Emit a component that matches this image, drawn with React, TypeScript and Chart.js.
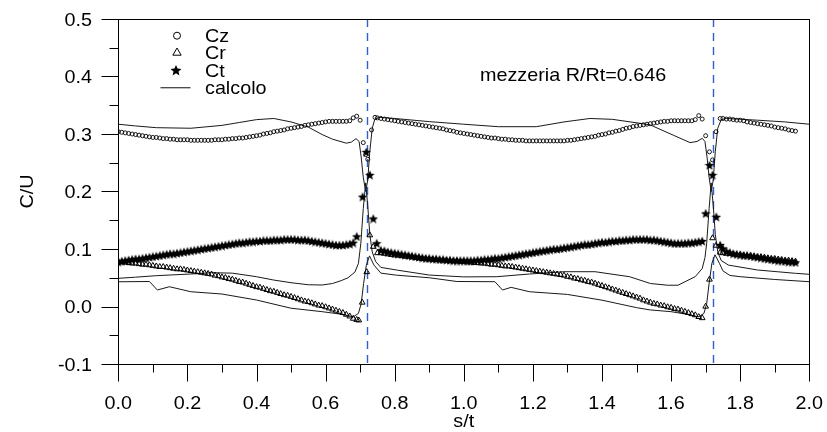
import React, { useEffect, useRef } from 'react';
import { Chart, registerables } from 'chart.js';

Chart.register(...registerables);

// ---------- axis ticks ----------
const xTicks = [0, 0.2, 0.4, 0.6, 0.8, 1.0, 1.2, 1.4, 1.6, 1.8, 2.0];
const xTickLabels = ['0.0', '0.2', '0.4', '0.6', '0.8', '1.0', '1.2', '1.4', '1.6', '1.8', '2.0'];
const xMinorTicks = [0.1, 0.3, 0.5, 0.7, 0.9, 1.1, 1.3, 1.5, 1.7, 1.9];
const yTicks = [-0.1, 0.0, 0.1, 0.2, 0.3, 0.4, 0.5];
const yTickLabels = ['-0.1', '0.0', '0.1', '0.2', '0.3', '0.4', '0.5'];
const yMinorTicks = [-0.05, 0.05, 0.15, 0.25, 0.35, 0.45];
const wakeLines = [0.72, 1.72];

const xTitle = 's/t';
const yTitle = 'C/U';
const note = 'mezzeria R/Rt=0.646';
const legendLabels = ['Cz', 'Cr', 'Ct', 'calcolo'];

// ---------- measured Cz (circles) ----------
const czSeg1Start = 0.0;
const czSeg1 = [
  0.304, 0.303, 0.302, 0.301, 0.300, 0.299, 0.298, 0.297, 0.296, 0.295,
  0.294, 0.294, 0.293, 0.292, 0.292, 0.291, 0.291, 0.290, 0.290, 0.290,
  0.290, 0.289, 0.289, 0.289, 0.289, 0.289, 0.289, 0.289, 0.290, 0.290,
  0.290, 0.291, 0.291, 0.292, 0.292, 0.293, 0.293, 0.294, 0.295, 0.296,
  0.297, 0.298, 0.300, 0.301, 0.302, 0.304, 0.305, 0.306, 0.307, 0.309,
  0.310, 0.311, 0.312, 0.313, 0.315, 0.316, 0.317, 0.318, 0.319, 0.320,
  0.321, 0.322, 0.322, 0.322, 0.322, 0.322, 0.322, 0.323, 0.328, 0.331,
  0.324,
];
const czSpike1 = [[0.709, 0.285], [0.716, 0.264], [0.722, 0.256], [0.733, 0.307], [0.743, 0.329]];
const czSeg2Start = 0.75;
const czSeg2 = [
  0.328, 0.327, 0.326, 0.325, 0.324,
  0.323, 0.322, 0.321, 0.320, 0.319, 0.318, 0.317, 0.316, 0.315, 0.314,
  0.313, 0.312, 0.311, 0.310, 0.309, 0.307, 0.306, 0.305, 0.303, 0.302,
  0.301, 0.300, 0.299, 0.298, 0.297, 0.296, 0.295, 0.294, 0.293, 0.293,
  0.292, 0.291, 0.291, 0.290, 0.290, 0.289, 0.289, 0.289, 0.288, 0.288,
  0.288, 0.288, 0.288, 0.288, 0.288, 0.288, 0.288, 0.288, 0.288, 0.288,
  0.289, 0.289, 0.290, 0.291, 0.292, 0.293, 0.294, 0.295, 0.296, 0.298,
  0.299, 0.300, 0.302, 0.303, 0.305, 0.306, 0.308, 0.310, 0.311, 0.313,
  0.314, 0.315, 0.316, 0.317, 0.318, 0.319, 0.320, 0.321, 0.322, 0.322,
  0.323, 0.323, 0.323, 0.323, 0.323, 0.323, 0.323, 0.325, 0.332, 0.326,
];
const czSpike2 = [[1.700, 0.297], [1.711, 0.269], [1.720, 0.255], [1.730, 0.304], [1.742, 0.327]];
const czSeg3Start = 1.75;
const czSeg3 = [
  0.327, 0.326, 0.326, 0.325, 0.324, 0.324, 0.323, 0.321, 0.320, 0.319,
  0.318, 0.317, 0.316, 0.315, 0.314, 0.312, 0.311, 0.310, 0.309, 0.307,
  0.306, 0.305,
];

// ---------- measured Cr (triangles) ----------
const crSeg1Start = 0.0;
const crSeg1 = [
  0.078, 0.077, 0.077, 0.076, 0.075, 0.075, 0.074, 0.073, 0.073, 0.072,
  0.071, 0.070, 0.069, 0.069, 0.068, 0.067, 0.066, 0.065, 0.065, 0.064,
  0.063, 0.062, 0.061, 0.060, 0.059, 0.058, 0.057, 0.056, 0.054, 0.053,
  0.051, 0.050, 0.048, 0.047, 0.045, 0.043, 0.042, 0.040, 0.038, 0.036,
  0.034, 0.033, 0.031, 0.029, 0.027, 0.026, 0.024, 0.022, 0.020, 0.019,
  0.017, 0.015, 0.013, 0.011, 0.009, 0.008, 0.006, 0.004, 0.002, 0.001,
  -0.001, -0.003, -0.005, -0.007, -0.009, -0.011, -0.014, -0.017, -0.021, -0.023,
];
const crSpike1 = [[0.696, -0.024], [0.706, 0.007], [0.719, 0.060], [0.728, 0.124], [0.738, 0.104], [0.750, 0.093]];
const crSeg2Start = 0.76;
const crSeg2 = [
  0.093, 0.092, 0.091, 0.090,
  0.089, 0.089, 0.088, 0.087, 0.087, 0.086, 0.085, 0.084, 0.083, 0.083,
  0.082, 0.082, 0.081, 0.081, 0.080, 0.080, 0.079, 0.079, 0.079, 0.078,
  0.078, 0.077, 0.077, 0.076, 0.076, 0.075, 0.075, 0.074, 0.073, 0.073,
  0.072, 0.071, 0.070, 0.070, 0.069, 0.068, 0.067, 0.066, 0.065, 0.064,
  0.063, 0.062, 0.061, 0.060, 0.059, 0.058, 0.057, 0.056, 0.055, 0.054,
  0.052, 0.051, 0.049, 0.048, 0.046, 0.045, 0.043, 0.042, 0.040, 0.038,
  0.036, 0.034, 0.032, 0.030, 0.028, 0.026, 0.024, 0.022, 0.020, 0.018,
  0.016, 0.014, 0.011, 0.009, 0.007, 0.005, 0.004, 0.002, 0.001, -0.001,
  -0.002, -0.004, -0.005, -0.007, -0.009, -0.011, -0.013, -0.015, -0.018, -0.020,
];
const crSpike2 = [[1.700, 0.000], [1.711, 0.047], [1.720, 0.119], [1.730, 0.106], [1.742, 0.094]];
const crSeg3Start = 1.75;
const crSeg3 = [
  0.093, 0.092, 0.092, 0.091, 0.090, 0.090, 0.089, 0.088, 0.088, 0.087,
  0.086, 0.086, 0.085, 0.084, 0.083, 0.083, 0.082, 0.081, 0.080, 0.080,
  0.079, 0.078,
];

// ---------- measured Ct (stars) ----------
const ctSeg1Start = 0.0;
const ctSeg1 = [
  0.078, 0.079, 0.080, 0.081, 0.082, 0.083, 0.083, 0.084, 0.085, 0.086,
  0.087, 0.088, 0.089, 0.090, 0.091, 0.092, 0.092, 0.093, 0.094, 0.095,
  0.096, 0.097, 0.098, 0.099, 0.100, 0.101, 0.102, 0.103, 0.104, 0.105,
  0.106, 0.107, 0.108, 0.109, 0.110, 0.111, 0.111, 0.112, 0.113, 0.113,
  0.114, 0.114, 0.115, 0.115, 0.115, 0.116, 0.116, 0.116, 0.117, 0.117,
  0.117, 0.117, 0.116, 0.116, 0.116, 0.115, 0.114, 0.113, 0.112, 0.111,
  0.110, 0.109, 0.108, 0.107, 0.107, 0.107, 0.108, 0.109, 0.111, 0.122,
];
const ctSpike1 = [[0.707, 0.191], [0.718, 0.269], [0.728, 0.229], [0.738, 0.153], [0.748, 0.110]];
const ctSeg2Start = 0.76;
const ctSeg2 = [
  0.098, 0.097, 0.095, 0.094,
  0.093, 0.092, 0.091, 0.090, 0.089, 0.088, 0.087, 0.086, 0.085, 0.084,
  0.084, 0.083, 0.083, 0.082, 0.082, 0.081, 0.081, 0.080, 0.080, 0.080,
  0.080, 0.080, 0.080, 0.080, 0.081, 0.081, 0.082, 0.082, 0.083, 0.084,
  0.084, 0.085, 0.086, 0.087, 0.088, 0.089, 0.090, 0.091, 0.092, 0.093,
  0.094, 0.095, 0.096, 0.097, 0.098, 0.099, 0.100, 0.100, 0.101, 0.102,
  0.103, 0.104, 0.105, 0.106, 0.107, 0.108, 0.108, 0.109, 0.110, 0.111,
  0.112, 0.112, 0.113, 0.114, 0.114, 0.115, 0.115, 0.116, 0.116, 0.117,
  0.117, 0.117, 0.117, 0.117, 0.116, 0.116, 0.115, 0.114, 0.113, 0.112,
  0.111, 0.110, 0.110, 0.110, 0.110, 0.111, 0.111, 0.112, 0.113, 0.114,
];
const ctSpike2 = [[1.700, 0.162], [1.711, 0.246], [1.720, 0.229], [1.731, 0.156], [1.742, 0.107]];
const ctSeg3Start = 1.75;
const ctSeg3 = [
  0.101, 0.096, 0.094, 0.092, 0.091, 0.090, 0.089, 0.089, 0.088, 0.087,
  0.086, 0.085, 0.084, 0.083, 0.082, 0.081, 0.080, 0.080, 0.079, 0.078,
  0.078, 0.077,
];

// ---------- calculated curves (calcolo) ----------
const czCalc = [
  [0.0, 0.317], [0.05, 0.314], [0.11, 0.311], [0.21, 0.310], [0.30, 0.315], [0.35, 0.320],
  [0.40, 0.325], [0.45, 0.327], [0.50, 0.321], [0.55, 0.312], [0.59, 0.299], [0.62, 0.291],
  [0.66, 0.284], [0.675, 0.286], [0.688, 0.292], [0.697, 0.287], [0.703, 0.260], [0.709, 0.225],
  [0.716, 0.200], [0.722, 0.220], [0.728, 0.270], [0.735, 0.310], [0.742, 0.325], [0.755, 0.329],
  [0.80, 0.327], [0.90, 0.3215], [1.00, 0.317], [1.10, 0.3127], [1.21, 0.3127], [1.29, 0.321],
  [1.365, 0.327], [1.43, 0.3255], [1.51, 0.3186], [1.54, 0.3157], [1.606, 0.298], [1.655, 0.285],
  [1.675, 0.287], [1.69, 0.2925], [1.698, 0.287], [1.704, 0.260], [1.710, 0.225], [1.716, 0.200],
  [1.722, 0.220], [1.728, 0.270], [1.735, 0.310], [1.745, 0.325], [1.76, 0.327], [1.85, 0.324],
  [1.93, 0.321], [2.0, 0.317],
];
const crCalc = [
  [0.0, 0.043], [0.09, 0.0435], [0.113, 0.0287], [0.148, 0.0344], [0.21, 0.0257], [0.30, 0.0217],
  [0.40, 0.0113], [0.50, -0.003], [0.59, -0.009], [0.64, -0.013], [0.68, -0.018], [0.695, -0.012],
  [0.703, 0.005], [0.710, 0.040], [0.718, 0.072], [0.727, 0.088], [0.74, 0.072], [0.76, 0.058],
  [0.805, 0.0545], [0.90, 0.050], [0.98, 0.0435], [1.09, 0.0431], [1.112, 0.0287], [1.137, 0.0333],
  [1.19, 0.0257], [1.30, 0.021], [1.40, 0.011], [1.50, -0.002], [1.54, -0.006], [1.60, -0.009],
  [1.64, -0.013], [1.68, -0.018], [1.695, -0.012], [1.703, 0.005], [1.710, 0.040], [1.718, 0.075],
  [1.727, 0.090], [1.74, 0.075], [1.75, 0.062], [1.77, 0.054], [1.80, 0.0518], [1.90, 0.047],
  [2.0, 0.0431],
];
const ctCalc = [
  [0.0, 0.049], [0.05, 0.051], [0.11, 0.0536], [0.21, 0.0565], [0.27, 0.0588], [0.33, 0.058],
  [0.40, 0.0518], [0.45, 0.046], [0.50, 0.0414], [0.55, 0.0378], [0.59, 0.0374], [0.62, 0.040],
  [0.645, 0.045], [0.665, 0.050], [0.685, 0.060], [0.695, 0.075], [0.702, 0.110], [0.709, 0.170],
  [0.716, 0.215], [0.722, 0.175], [0.728, 0.125], [0.735, 0.095], [0.745, 0.078], [0.76, 0.068],
  [0.805, 0.0635], [0.90, 0.0547], [1.00, 0.0515], [1.095, 0.0518], [1.19, 0.0565], [1.29, 0.0605],
  [1.38, 0.0605], [1.48, 0.0518], [1.54, 0.040], [1.59, 0.037], [1.62, 0.037], [1.67, 0.052],
  [1.69, 0.066], [1.698, 0.085], [1.703, 0.110], [1.710, 0.170], [1.716, 0.215], [1.722, 0.175],
  [1.728, 0.125], [1.735, 0.095], [1.745, 0.080], [1.766, 0.072], [1.85, 0.0635], [1.96, 0.0577],
  [2.0, 0.056],
];

// ---------- helpers ----------
const FONT = '19px "Liberation Sans", Arial, Helvetica, sans-serif';
const SX = 1.04;

function seg(start: number, vals: number[]) {
  return vals.map((v, i) => ({ x: Math.round((start + i * 0.01) * 1000) / 1000, y: v }));
}
function pairs(p: number[][]) {
  return p.map(([x, y]) => ({ x, y }));
}
function series(parts: { x: number; y: number }[][]) {
  return parts.flat().sort((a, b) => a.x - b.x);
}

function starPath(g: CanvasRenderingContext2D, cx: number, cy: number, R: number) {
  const r = R * 0.45;
  g.beginPath();
  for (let i = 0; i < 10; i++) {
    const a = -Math.PI / 2 + (i * Math.PI) / 5;
    const rr = i % 2 === 0 ? R : r;
    g.lineTo(cx + rr * Math.cos(a), cy + rr * Math.sin(a));
  }
  g.closePath();
}

function makeStar(size: number) {
  const c = document.createElement('canvas');
  c.width = size;
  c.height = size;
  const g = c.getContext('2d')!;
  starPath(g, size / 2, size / 2 + size * 0.06, size / 2);
  g.fillStyle = '#000';
  g.fill();
  return c;
}

function txt(ctx: CanvasRenderingContext2D, s: string, x: number, y: number, align: CanvasTextAlign, rot = 0) {
  ctx.save();
  ctx.translate(x, y);
  if (rot) ctx.rotate(rot);
  ctx.scale(SX, 1);
  ctx.textAlign = align;
  ctx.textBaseline = 'alphabetic';
  ctx.fillText(s, 0, 0);
  ctx.restore();
}

const decorPlugin = {
  id: 'decor',
  beforeDatasetsDraw(chart: any) {
    const { ctx, chartArea: ca, scales } = chart;
    const xs = scales.x;
    ctx.save();
    ctx.strokeStyle = '#2f5fc8';
    ctx.lineWidth = 1.4;
    ctx.setLineDash([8, 6]);
    wakeLines.forEach((w) => {
      const px = Math.round(xs.getPixelForValue(w)) + 0.5;
      ctx.beginPath();
      ctx.moveTo(px, ca.top);
      ctx.lineTo(px, ca.bottom);
      ctx.stroke();
    });
    ctx.restore();
  },
  afterDraw(chart: any) {
    const { ctx, chartArea: ca, scales } = chart;
    const xs = scales.x;
    const ys = scales.y;
    const L = Math.round(ca.left) + 0.5;
    const R = Math.round(ca.right) + 0.5;
    const T = Math.round(ca.top) + 0.5;
    const B = Math.round(ca.bottom) + 0.5;
    ctx.save();
    ctx.strokeStyle = '#000';
    ctx.lineWidth = 1;
    ctx.setLineDash([]);
    ctx.strokeRect(L, T, R - L, B - T);
    ctx.beginPath();
    xTicks.forEach((v) => {
      const px = Math.round(xs.getPixelForValue(v)) + 0.5;
      ctx.moveTo(px, B);
      ctx.lineTo(px, B + 17);
    });
    xMinorTicks.forEach((v) => {
      const px = Math.round(xs.getPixelForValue(v)) + 0.5;
      ctx.moveTo(px, B);
      ctx.lineTo(px, B + 8);
    });
    yTicks.forEach((v) => {
      const py = Math.round(ys.getPixelForValue(v)) + 0.5;
      ctx.moveTo(L, py);
      ctx.lineTo(L - 17, py);
    });
    yMinorTicks.forEach((v) => {
      const py = Math.round(ys.getPixelForValue(v)) + 0.5;
      ctx.moveTo(L, py);
      ctx.lineTo(L - 9, py);
    });
    ctx.stroke();

    ctx.fillStyle = '#000';
    ctx.font = FONT;
    xTicks.forEach((v, i) => txt(ctx, xTickLabels[i], xs.getPixelForValue(v), 409, 'center'));
    yTicks.forEach((v, i) => txt(ctx, yTickLabels[i], 92, ys.getPixelForValue(v) + 6.8, 'right'));
    txt(ctx, xTitle, (ca.left + ca.right) / 2, 427, 'center');
    txt(ctx, yTitle, 33, (ca.top + ca.bottom) / 2, 'center', -Math.PI / 2);
    txt(ctx, note, 480, 81, 'left');

    // legend
    const lx = 177;
    const baseY = [41.7, 59.3, 76.7, 94];
    ctx.lineWidth = 1;
    ctx.beginPath();
    ctx.arc(lx, baseY[0] - 6, 3.5, 0, Math.PI * 2);
    ctx.stroke();
    const ty = baseY[1] - 6.5;
    const tr = 4.8;
    ctx.beginPath();
    ctx.moveTo(lx, ty - tr);
    ctx.lineTo(lx + tr * 0.866, ty + tr * 0.5);
    ctx.lineTo(lx - tr * 0.866, ty + tr * 0.5);
    ctx.closePath();
    ctx.stroke();
    starPath(ctx, lx - 1, baseY[2] - 6, 5.8);
    ctx.fill();
    ctx.strokeStyle = '#444';
    ctx.lineWidth = 1.3;
    ctx.beginPath();
    ctx.moveTo(160.5, 87.7);
    ctx.lineTo(190.5, 87.7);
    ctx.stroke();
    legendLabels.forEach((s, i) => txt(ctx, s, 205, baseY[i], 'left'));
    ctx.restore();
  },
};

export default function App() {
  const ref = useRef<HTMLCanvasElement | null>(null);
  useEffect(() => {
    if (!ref.current) return;
    const star = makeStar(10);
    const calcStyle = {
      showLine: true,
      pointRadius: 0,
      borderColor: '#1a1a1a',
      borderWidth: 1,
      tension: 0,
      fill: false,
    };
    const chart = new Chart(ref.current, {
      type: 'scatter',
      data: {
        datasets: [
          {
            label: 'Ct',
            data: series([seg(ctSeg1Start, ctSeg1), pairs(ctSpike1), seg(ctSeg2Start, ctSeg2), pairs(ctSpike2), seg(ctSeg3Start, ctSeg3)]),
            pointStyle: star as any,
            pointRadius: 5,
            showLine: false,
          },
          {
            label: 'Cz',
            data: series([seg(czSeg1Start, czSeg1), pairs(czSpike1), seg(czSeg2Start, czSeg2), pairs(czSpike2), seg(czSeg3Start, czSeg3)]),
            pointStyle: 'circle',
            pointRadius: 2,
            borderWidth: 0.9,
            borderColor: '#000',
            backgroundColor: 'rgba(255,255,255,0)',
            showLine: false,
          },
          {
            label: 'Cr',
            data: series([seg(crSeg1Start, crSeg1), pairs(crSpike1), seg(crSeg2Start, crSeg2), pairs(crSpike2), seg(crSeg3Start, crSeg3)]),
            pointStyle: 'triangle',
            pointRadius: 3.3,
            borderWidth: 1,
            borderColor: '#000',
            backgroundColor: 'rgba(255,255,255,0)',
            showLine: false,
          },
          { label: 'calcolo Cz', data: pairs(czCalc), ...calcStyle },
          { label: 'calcolo Cr', data: pairs(crCalc), ...calcStyle },
          { label: 'calcolo Ct', data: pairs(ctCalc), ...calcStyle },
        ] as any,
      },
      options: {
        responsive: false,
        animation: false,
        devicePixelRatio: 1,
        events: [],
        layout: { padding: { left: 0, right: 17.7, top: 19, bottom: 0 } },
        plugins: { legend: { display: false }, tooltip: { enabled: false } },
        scales: {
          x: {
            type: 'linear',
            min: 0,
            max: 2,
            ticks: { display: false },
            grid: { display: false },
            border: { display: false },
            afterFit: (s: any) => {
              s.height = 68;
            },
          },
          y: {
            type: 'linear',
            min: -0.1,
            max: 0.5,
            ticks: { display: false },
            grid: { display: false },
            border: { display: false },
            afterFit: (s: any) => {
              s.width = 118.3;
            },
          },
        },
      } as any,
      plugins: [decorPlugin],
    });
    return () => chart.destroy();
  }, []);
  return (
    <div style={{ position: 'fixed', left: 0, top: 0, width: 827, height: 432, background: '#fff' }}>
      <canvas ref={ref} width={827} height={432} style={{ display: 'block', width: 827, height: 432 }} />
    </div>
  );
}
